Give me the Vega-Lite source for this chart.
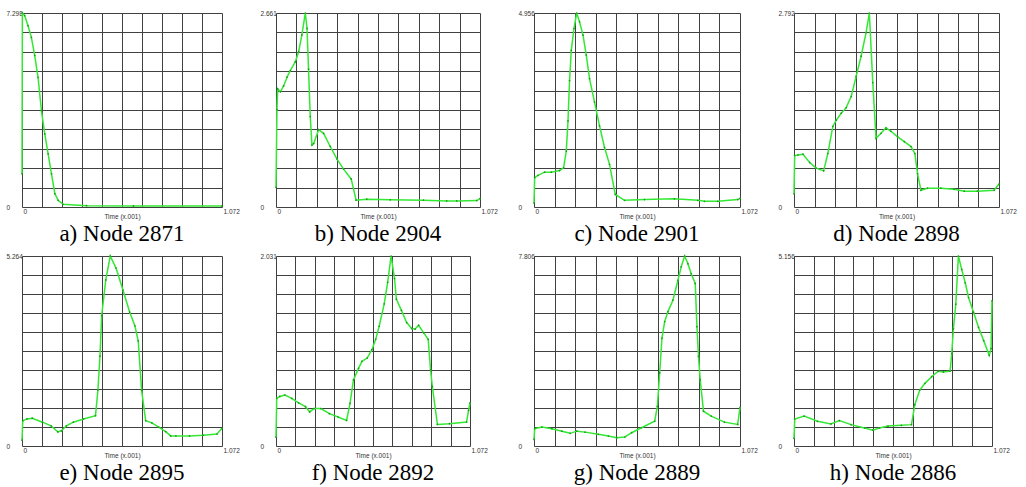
{
"$schema": "https://vega.github.io/schema/vega-lite/v6.json",
"background": "white",
"padding": {"left": 6, "top": 10, "right": 5, "bottom": 0},
"bounds": "flush",
"columns": 4,
"spacing": {"row": 49, "column": 54},
"config": {
  "view": {"stroke": null},
  "title": {"orient": "bottom", "font": "Liberation Serif", "fontSize": 23, "fontWeight": "normal", "color": "#000000", "offset": 3},
  "axis": {"domain": false, "ticks": false, "tickSize": 0, "grid": true, "gridColor": "#404040", "gridWidth": 1, "gridOpacity": 1, "labelFont": "Liberation Sans", "labelFontSize": 6.5, "labelColor": "#333333", "titleFont": "Liberation Sans", "titleFontSize": 6.5, "titleFontWeight": "normal", "titleColor": "#333333"},
  "axisX": {"labelAlign": "left", "labelPadding": 1, "labelOffset": 1, "titlePadding": -1, "labelFlush": false, "labelOverlap": false},
  "axisY": {"labelAlign": "left", "labelPadding": 16, "labelBaseline": "middle", "labelOverlap": false},
  "line": {"color": "#33e833", "strokeWidth": 1.5}
},
"datasets": {
  "a": [{"t":0,"v":1.25},{"t":0.002,"v":7.298},{"t":0.0143,"v":7.2},{"t":0.0323,"v":6.82},{"t":0.0502,"v":6.38},{"t":0.0681,"v":5.7},{"t":0.086,"v":4.88},{"t":0.104,"v":3.63},{"t":0.122,"v":2.75},{"t":0.14,"v":2.0},{"t":0.158,"v":1.25},{"t":0.176,"v":0.5},{"t":0.194,"v":0.25},{"t":0.22,"v":0.1},{"t":0.346,"v":0.05},{"t":0.597,"v":0.04},{"t":1.072,"v":0.04}],
  "b": [{"t":0,"v":0.27},{"t":0.005,"v":1.34},{"t":0.009,"v":1.62},{"t":0.023,"v":1.58},{"t":0.04,"v":1.66},{"t":0.058,"v":1.78},{"t":0.075,"v":1.87},{"t":0.101,"v":1.99},{"t":0.119,"v":2.13},{"t":0.136,"v":2.36},{"t":0.154,"v":2.661},{"t":0.163,"v":2.45},{"t":0.171,"v":1.89},{"t":0.18,"v":1.24},{"t":0.189,"v":0.85},{"t":0.198,"v":0.87},{"t":0.224,"v":1.06},{"t":0.25,"v":1.01},{"t":0.285,"v":0.83},{"t":0.32,"v":0.66},{"t":0.355,"v":0.52},{"t":0.395,"v":0.385},{"t":0.421,"v":0.093},{"t":0.477,"v":0.107},{"t":0.6,"v":0.098},{"t":0.775,"v":0.093},{"t":0.897,"v":0.084},{"t":0.95,"v":0.084},{"t":1.055,"v":0.088},{"t":1.072,"v":0.116}],
  "c": [{"t":0,"v":0.1},{"t":0.0035,"v":0.75},{"t":0.021,"v":0.81},{"t":0.055,"v":0.89},{"t":0.09,"v":0.89},{"t":0.133,"v":0.93},{"t":0.154,"v":1.0},{"t":0.168,"v":1.43},{"t":0.177,"v":2.2},{"t":0.185,"v":3.23},{"t":0.194,"v":4.0},{"t":0.208,"v":4.56},{"t":0.222,"v":4.956},{"t":0.237,"v":4.73},{"t":0.255,"v":4.39},{"t":0.272,"v":3.88},{"t":0.289,"v":3.28},{"t":0.315,"v":2.68},{"t":0.341,"v":2.07},{"t":0.367,"v":1.52},{"t":0.393,"v":1.09},{"t":0.423,"v":0.32},{"t":0.471,"v":0.17},{"t":0.575,"v":0.19},{"t":0.731,"v":0.21},{"t":0.852,"v":0.17},{"t":0.887,"v":0.146},{"t":0.956,"v":0.146},{"t":1.06,"v":0.19},{"t":1.072,"v":0.22}],
  "d": [{"t":0,"v":0.19},{"t":0.0035,"v":0.74},{"t":0.021,"v":0.75},{"t":0.047,"v":0.76},{"t":0.082,"v":0.64},{"t":0.116,"v":0.56},{"t":0.155,"v":0.52},{"t":0.177,"v":0.77},{"t":0.203,"v":1.16},{"t":0.221,"v":1.25},{"t":0.247,"v":1.35},{"t":0.273,"v":1.43},{"t":0.299,"v":1.59},{"t":0.325,"v":1.88},{"t":0.351,"v":2.17},{"t":0.377,"v":2.51},{"t":0.394,"v":2.792},{"t":0.412,"v":1.79},{"t":0.429,"v":0.99},{"t":0.455,"v":1.06},{"t":0.481,"v":1.14},{"t":0.507,"v":1.09},{"t":0.542,"v":1.01},{"t":0.577,"v":0.94},{"t":0.612,"v":0.87},{"t":0.632,"v":0.77},{"t":0.646,"v":0.48},{"t":0.664,"v":0.24},{"t":0.698,"v":0.27},{"t":0.768,"v":0.27},{"t":0.837,"v":0.256},{"t":0.89,"v":0.227},{"t":0.959,"v":0.227},{"t":1.046,"v":0.24},{"t":1.072,"v":0.33}],
  "e": [{"t":0,"v":0.16},{"t":0.004,"v":0.7},{"t":0.027,"v":0.75},{"t":0.055,"v":0.77},{"t":0.11,"v":0.66},{"t":0.156,"v":0.56},{"t":0.192,"v":0.39},{"t":0.211,"v":0.42},{"t":0.238,"v":0.56},{"t":0.275,"v":0.66},{"t":0.33,"v":0.75},{"t":0.394,"v":0.84},{"t":0.407,"v":1.55},{"t":0.418,"v":2.49},{"t":0.427,"v":3.61},{"t":0.449,"v":4.6},{"t":0.473,"v":5.264},{"t":0.504,"v":4.93},{"t":0.541,"v":4.32},{"t":0.577,"v":3.71},{"t":0.605,"v":3.33},{"t":0.623,"v":2.91},{"t":0.641,"v":1.55},{"t":0.663,"v":0.7},{"t":0.696,"v":0.64},{"t":0.733,"v":0.52},{"t":0.77,"v":0.4},{"t":0.797,"v":0.28},{"t":0.825,"v":0.28},{"t":0.898,"v":0.28},{"t":0.971,"v":0.3},{"t":1.045,"v":0.33},{"t":1.072,"v":0.49}],
  "f": [{"t":0,"v":0.094},{"t":0.004,"v":0.51},{"t":0.021,"v":0.53},{"t":0.049,"v":0.545},{"t":0.087,"v":0.51},{"t":0.125,"v":0.46},{"t":0.163,"v":0.42},{"t":0.186,"v":0.364},{"t":0.21,"v":0.4},{"t":0.248,"v":0.4},{"t":0.295,"v":0.346},{"t":0.343,"v":0.31},{"t":0.39,"v":0.274},{"t":0.409,"v":0.455},{"t":0.428,"v":0.707},{"t":0.456,"v":0.83},{"t":0.475,"v":0.905},{"t":0.504,"v":0.94},{"t":0.53,"v":1.03},{"t":0.551,"v":1.14},{"t":0.57,"v":1.28},{"t":0.598,"v":1.52},{"t":0.617,"v":1.75},{"t":0.636,"v":2.031},{"t":0.655,"v":1.79},{"t":0.665,"v":1.57},{"t":0.693,"v":1.45},{"t":0.722,"v":1.32},{"t":0.75,"v":1.255},{"t":0.769,"v":1.25},{"t":0.788,"v":1.29},{"t":0.816,"v":1.21},{"t":0.841,"v":1.14},{"t":0.854,"v":0.815},{"t":0.864,"v":0.635},{"t":0.892,"v":0.23},{"t":0.958,"v":0.238},{"t":1.053,"v":0.256},{"t":1.064,"v":0.38},{"t":1.072,"v":0.46}],
  "g": [{"t":0,"v":0.27},{"t":0.0035,"v":0.71},{"t":0.041,"v":0.78},{"t":0.093,"v":0.71},{"t":0.145,"v":0.61},{"t":0.188,"v":0.52},{"t":0.223,"v":0.61},{"t":0.266,"v":0.57},{"t":0.335,"v":0.48},{"t":0.387,"v":0.41},{"t":0.43,"v":0.34},{"t":0.473,"v":0.37},{"t":0.508,"v":0.545},{"t":0.559,"v":0.75},{"t":0.628,"v":1.02},{"t":0.642,"v":1.63},{"t":0.654,"v":3.0},{"t":0.666,"v":4.43},{"t":0.68,"v":5.11},{"t":0.697,"v":5.52},{"t":0.723,"v":5.99},{"t":0.749,"v":6.81},{"t":0.766,"v":7.36},{"t":0.784,"v":7.806},{"t":0.801,"v":7.49},{"t":0.818,"v":7.08},{"t":0.839,"v":6.68},{"t":0.848,"v":4.9},{"t":0.856,"v":3.68},{"t":0.865,"v":2.72},{"t":0.882,"v":1.43},{"t":0.922,"v":1.23},{"t":0.991,"v":0.98},{"t":1.06,"v":0.885},{"t":1.072,"v":1.59}],
  "h": [{"t":0,"v":0.21},{"t":0.004,"v":0.73},{"t":0.055,"v":0.81},{"t":0.127,"v":0.67},{"t":0.2,"v":0.6},{"t":0.245,"v":0.69},{"t":0.309,"v":0.58},{"t":0.382,"v":0.49},{"t":0.427,"v":0.43},{"t":0.463,"v":0.49},{"t":0.509,"v":0.54},{"t":0.581,"v":0.56},{"t":0.636,"v":0.58},{"t":0.654,"v":1.12},{"t":0.681,"v":1.52},{"t":0.709,"v":1.7},{"t":0.745,"v":1.88},{"t":0.781,"v":2.03},{"t":0.809,"v":2.01},{"t":0.845,"v":2.03},{"t":0.854,"v":2.51},{"t":0.863,"v":3.18},{"t":0.876,"v":3.85},{"t":0.89,"v":5.156},{"t":0.908,"v":4.79},{"t":0.927,"v":4.43},{"t":0.945,"v":4.03},{"t":0.972,"v":3.63},{"t":0.999,"v":3.22},{"t":1.027,"v":2.86},{"t":1.057,"v":2.46},{"t":1.067,"v":2.64},{"t":1.072,"v":3.94}]
},
"concat": [
  {"width": 200, "height": 194, "data": {"name": "a"}, "title": "a) Node 2871",
   "mark": {"type": "line", "point": {"filled": true, "size": 3, "color": "#1c9c1c"}},
   "encoding": {
    "x": {"field": "t", "type": "quantitative", "scale": {"domain": [0, 1.072], "nice": false, "zero": false}, "axis": {"values": [0,0.1072,0.2144,0.3216,0.4288,0.536,0.6432,0.7504,0.8576,0.9648,1.072], "labelExpr": "datum.index == 0 || datum.index == 1 ? format(datum.value, '.4~r') : ''", "title": "Time (x.001)"}},
    "y": {"field": "v", "type": "quantitative", "scale": {"domain": [0, 7.298], "nice": false}, "axis": {"values": [0,0.7298,1.4596,2.1894,2.9192,3.649,4.3788,5.1086,5.8384,6.5682,7.298], "labelExpr": "datum.index == 0 || datum.index == 1 ? format(datum.value, '.4~r') : ''", "title": null}}}},
  {"width": 204, "height": 194, "data": {"name": "b"}, "title": "b) Node 2904",
   "mark": {"type": "line", "point": {"filled": true, "size": 3, "color": "#1c9c1c"}},
   "encoding": {
    "x": {"field": "t", "type": "quantitative", "scale": {"domain": [0, 1.072], "nice": false, "zero": false}, "axis": {"values": [0,0.1072,0.2144,0.3216,0.4288,0.536,0.6432,0.7504,0.8576,0.9648,1.072], "labelExpr": "datum.index == 0 || datum.index == 1 ? format(datum.value, '.4~r') : ''", "title": "Time (x.001)"}},
    "y": {"field": "v", "type": "quantitative", "scale": {"domain": [0, 2.661], "nice": false}, "axis": {"values": [0,0.2661,0.5322,0.7983,1.0644,1.3305,1.5966,1.8627,2.1288,2.3949,2.661], "labelExpr": "datum.index == 0 || datum.index == 1 ? format(datum.value, '.4~r') : ''", "title": null}}}},
  {"width": 206, "height": 194, "data": {"name": "c"}, "title": "c) Node 2901",
   "mark": {"type": "line", "point": {"filled": true, "size": 3, "color": "#1c9c1c"}},
   "encoding": {
    "x": {"field": "t", "type": "quantitative", "scale": {"domain": [0, 1.072], "nice": false, "zero": false}, "axis": {"values": [0,0.1072,0.2144,0.3216,0.4288,0.536,0.6432,0.7504,0.8576,0.9648,1.072], "labelExpr": "datum.index == 0 || datum.index == 1 ? format(datum.value, '.4~r') : ''", "title": "Time (x.001)"}},
    "y": {"field": "v", "type": "quantitative", "scale": {"domain": [0, 4.956], "nice": false}, "axis": {"values": [0,0.4956,0.9912,1.4868,1.9824,2.478,2.9736,3.4692,3.9648,4.4604,4.956], "labelExpr": "datum.index == 0 || datum.index == 1 ? format(datum.value, '.4~r') : ''", "title": null}}}},
  {"width": 205, "height": 194, "data": {"name": "d"}, "title": "d) Node 2898",
   "mark": {"type": "line", "point": {"filled": true, "size": 3, "color": "#1c9c1c"}},
   "encoding": {
    "x": {"field": "t", "type": "quantitative", "scale": {"domain": [0, 1.072], "nice": false, "zero": false}, "axis": {"values": [0,0.1072,0.2144,0.3216,0.4288,0.536,0.6432,0.7504,0.8576,0.9648,1.072], "labelExpr": "datum.index == 0 || datum.index == 1 ? format(datum.value, '.4~r') : ''", "title": "Time (x.001)"}},
    "y": {"field": "v", "type": "quantitative", "scale": {"domain": [0, 2.792], "nice": false}, "axis": {"values": [0,0.2792,0.5584,0.8376,1.1168,1.396,1.6752,1.9544,2.2336,2.5128,2.792], "labelExpr": "datum.index == 0 || datum.index == 1 ? format(datum.value, '.4~r') : ''", "title": null}}}},
  {"width": 200, "height": 190, "data": {"name": "e"}, "title": "e) Node 2895",
   "mark": {"type": "line", "point": {"filled": true, "size": 3, "color": "#1c9c1c"}},
   "encoding": {
    "x": {"field": "t", "type": "quantitative", "scale": {"domain": [0, 1.072], "nice": false, "zero": false}, "axis": {"values": [0,0.1072,0.2144,0.3216,0.4288,0.536,0.6432,0.7504,0.8576,0.9648,1.072], "labelExpr": "datum.index == 0 || datum.index == 1 ? format(datum.value, '.4~r') : ''", "title": "Time (x.001)"}},
    "y": {"field": "v", "type": "quantitative", "scale": {"domain": [0, 5.264], "nice": false}, "axis": {"values": [0,0.5264,1.0528,1.5792,2.1056,2.632,3.1584,3.6848,4.2112,4.7376,5.264], "labelExpr": "datum.index == 0 || datum.index == 1 ? format(datum.value, '.4~r') : ''", "title": null}}}},
  {"width": 194, "height": 190, "data": {"name": "f"}, "title": "f) Node 2892",
   "mark": {"type": "line", "point": {"filled": true, "size": 3, "color": "#1c9c1c"}},
   "encoding": {
    "x": {"field": "t", "type": "quantitative", "scale": {"domain": [0, 1.072], "nice": false, "zero": false}, "axis": {"values": [0,0.1072,0.2144,0.3216,0.4288,0.536,0.6432,0.7504,0.8576,0.9648,1.072], "labelExpr": "datum.index == 0 || datum.index == 1 ? format(datum.value, '.4~r') : ''", "title": "Time (x.001)"}},
    "y": {"field": "v", "type": "quantitative", "scale": {"domain": [0, 2.031], "nice": false}, "axis": {"values": [0,0.2031,0.4062,0.6093,0.8124,1.0155,1.2186,1.4217,1.6248,1.8279,2.031], "labelExpr": "datum.index == 0 || datum.index == 1 ? format(datum.value, '.4~r') : ''", "title": null}}}},
  {"width": 206, "height": 190, "data": {"name": "g"}, "title": "g) Node 2889",
   "mark": {"type": "line", "point": {"filled": true, "size": 3, "color": "#1c9c1c"}},
   "encoding": {
    "x": {"field": "t", "type": "quantitative", "scale": {"domain": [0, 1.072], "nice": false, "zero": false}, "axis": {"values": [0,0.1072,0.2144,0.3216,0.4288,0.536,0.6432,0.7504,0.8576,0.9648,1.072], "labelExpr": "datum.index == 0 || datum.index == 1 ? format(datum.value, '.4~r') : ''", "title": "Time (x.001)"}},
    "y": {"field": "v", "type": "quantitative", "scale": {"domain": [0, 7.806], "nice": false}, "axis": {"values": [0,0.7806,1.5612,2.3418,3.1224,3.903,4.6836,5.4642,6.2448,7.0254,7.806], "labelExpr": "datum.index == 0 || datum.index == 1 ? format(datum.value, '.4~r') : ''", "title": null}}}},
  {"width": 198, "height": 190, "data": {"name": "h"}, "title": "h) Node 2886",
   "mark": {"type": "line", "point": {"filled": true, "size": 3, "color": "#1c9c1c"}},
   "encoding": {
    "x": {"field": "t", "type": "quantitative", "scale": {"domain": [0, 1.072], "nice": false, "zero": false}, "axis": {"values": [0,0.1072,0.2144,0.3216,0.4288,0.536,0.6432,0.7504,0.8576,0.9648,1.072], "labelExpr": "datum.index == 0 || datum.index == 1 ? format(datum.value, '.4~r') : ''", "title": "Time (x.001)"}},
    "y": {"field": "v", "type": "quantitative", "scale": {"domain": [0, 5.156], "nice": false}, "axis": {"values": [0,0.5156,1.0312,1.5468,2.0624,2.578,3.0936,3.6092,4.1248,4.6404,5.156], "labelExpr": "datum.index == 0 || datum.index == 1 ? format(datum.value, '.4~r') : ''", "title": null}}}}
]
}
